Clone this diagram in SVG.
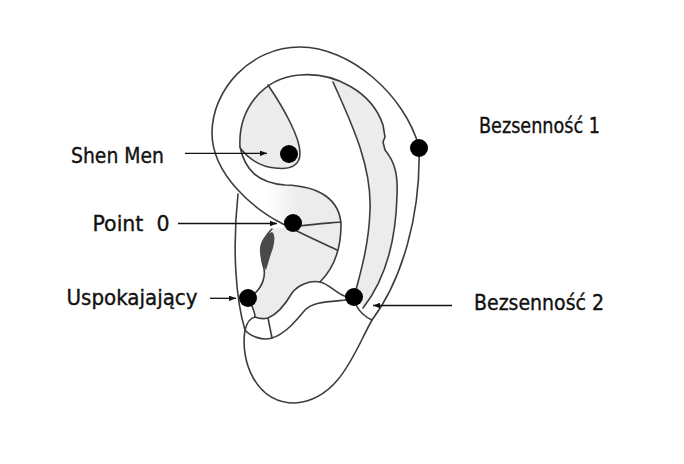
<svg xmlns="http://www.w3.org/2000/svg" width="684" height="464" viewBox="0 0 684 464">
<defs>
<style>
.ln{fill:none;stroke:#3c3c3c;stroke-width:1.6;stroke-linecap:round;stroke-linejoin:round}
.gr{fill:#ececec;stroke:none}
.dot{fill:#000}
.lbl{font-family:"DejaVu Sans Condensed","DejaVu Sans",sans-serif;font-size:22px;fill:#111;stroke:#111;stroke-width:0.35}
.arr{fill:none;stroke:#111;stroke-width:1.3}
</style>
<linearGradient id="fade" gradientUnits="userSpaceOnUse" x1="268" y1="0" x2="298" y2="0">
<stop offset="0" stop-color="#ececec" stop-opacity="0"/>
<stop offset="1" stop-color="#ececec"/>
</linearGradient>
<marker id="ah" viewBox="0 0 7 5.5" refX="7" refY="2.75" markerWidth="7" markerHeight="5.5" markerUnits="userSpaceOnUse" orient="auto">
<path d="M0,0 L7,2.75 L0,5.5 z" fill="#111"/>
</marker>
</defs>
<rect width="684" height="464" fill="#fff"/>
<g id="ear">
<path class="gr" d="M241,149 C239,120 250,96 268,85 C285,110 300,138 300,153 C300,166 290,170 275,168 C262,167 250,160 241,149 Z"/>
<path class="gr" d="M333,81 C350,120 372,165 370,210 C369,245 360,275 354,297 L364,307 C385,280 396,240 397,195 C398,175 395,162 385,150 L383,142 L385,137 L383,125 C375,100 355,86 333,79 Z"/>
<path fill="url(#fade)" d="M268,184 L285,185 C320,186 340,200 341,225 L300,226 L283,224 C278,221 272,218 268,215 Z"/>
<path class="gr" d="M298,185 C325,188 340,202 341,225 C341,252 332,270 320,282 C310,280 298,285 292,293 C285,305 278,314 268,318 C264,319 260,319 255,317 L252,306 C262,288 267,276 263,265 C259,252 262,238 272,229 L292,226 Z"/>
<path class="ln" d="M337,250 C320,242 298,232 283,224 C255,210 212,175 212,133 C212,90 250,47 300,47 C350,47 405,95 419,147 C421,215 402,280 372,320 C355,350 340,400 295,403 C255,403 240,360 245,330 C236,300 232,250 238,194"/>
<path class="ln" d="M240,147 C238,110 262,78 300,75 C335,72 372,92 383,125 L385,137 L383,142 L385,150 C395,162 398,175 397,195 C396,240 385,280 363,308"/>
<path class="ln" d="M333,82 C350,120 372,165 370,210 C369,245 360,275 354,297"/>
<path class="ln" d="M240,147 C245,170 258,183 285,185 C320,186 340,200 341,225 C341,252 332,270 320,282"/>
<path class="ln" d="M241,149 C250,160 262,167 275,168 C290,170 300,166 300,153 C300,138 285,110 268,85"/>
<path class="ln" d="M298,226 C315,224 330,223 341,222"/>
<path class="ln" d="M272,229 C262,238 259,252 263,265 C267,276 262,288 252,296"/>
<path class="ln" d="M252,306 C254,311 255,314 255,317 C250,318 247,322 245,330"/>
<path class="ln" d="M255,317 C260,319 264,319 268,318 C278,314 285,305 292,293 C298,285 310,280 320,282 C330,284 338,296 348,297"/>
<path class="ln" d="M245,330 C250,336 262,341 272,338 C285,334 295,322 305,310 C313,302 325,302 347,300"/>
<path class="ln" d="M268,318 L272,338"/>
<path class="ln" d="M356,305 C360,313 365,317 372,320"/>
<path d="M272,232 C264,234 259,244 260,252 C261,260 264,268 266,270 C268,264 270,256 273,248 C275,240 275,234 272,232 Z" fill="#4a4a4a"/>
</g>
<g id="connectors">
<line class="arr" x1="185" y1="153.3" x2="267" y2="153.3" marker-end="url(#ah)"/>
<line class="arr" x1="178" y1="223.5" x2="277" y2="223.5" marker-end="url(#ah)"/>
<line class="arr" x1="210" y1="298.3" x2="236" y2="298.3" marker-end="url(#ah)"/>
<line class="arr" x1="452" y1="305.5" x2="373" y2="305.5" marker-end="url(#ah)"/>
</g>
<g id="shen-men">
<circle class="dot" cx="289" cy="154" r="9"/>
<text class="lbl" x="71" y="162.5" textLength="93" lengthAdjust="spacingAndGlyphs">Shen Men</text>
</g>
<g id="point-0">
<circle class="dot" cx="293" cy="223" r="9"/>
<text class="lbl" x="92.5" y="230.5" textLength="77" lengthAdjust="spacingAndGlyphs" xml:space="preserve">Point  0</text>
</g>
<g id="uspokajajacy">
<circle class="dot" cx="248" cy="298" r="9"/>
<text class="lbl" x="66.5" y="305" textLength="131" lengthAdjust="spacingAndGlyphs">Uspokajający</text>
</g>
<g id="bezsennosc-1">
<circle class="dot" cx="419" cy="148" r="9"/>
<text class="lbl" x="479" y="132.5" textLength="121" lengthAdjust="spacingAndGlyphs">Bezsenność 1</text>
</g>
<g id="bezsennosc-2">
<circle class="dot" cx="354" cy="297" r="9"/>
<text class="lbl" x="474" y="310" textLength="130" lengthAdjust="spacingAndGlyphs">Bezsenność 2</text>
</g>
</svg>
